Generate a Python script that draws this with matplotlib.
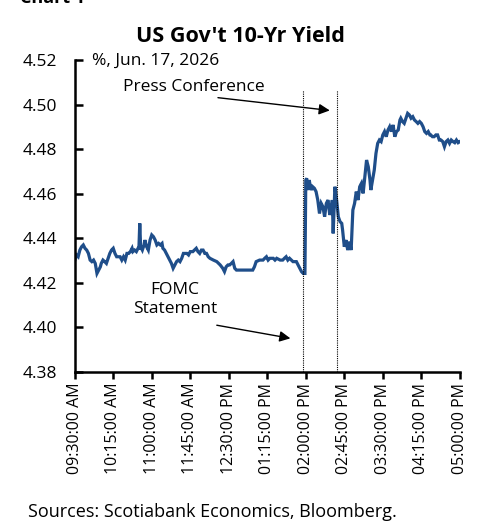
import matplotlib.pyplot as plt

plt.rcParams['font.family'] = ['Open Sans', 'DejaVu Sans']

# minutes after 09:30 and the 10-yr yield (%)
minutes = [0, 2, 4, 6, 8, 10, 12, 14, 16, 18, 20, 22, 24, 26, 28, 30, 31, 33, 35, 37,
           39, 41, 43, 45, 47, 49, 53, 55, 57, 59, 61, 63, 65, 67, 68, 70, 72, 74, 75, 76,
           77, 79, 81, 82, 84, 86, 88, 90, 92, 94, 96, 98, 100, 102, 103, 105, 107, 109, 111, 113,
           115, 117, 119, 121, 123, 125, 127, 131, 133, 135, 138, 142, 144, 146, 148, 150, 152, 154, 156, 158,
           162, 166, 170, 173, 175, 177, 179, 181, 183, 185, 187, 189, 193, 201, 208, 210, 212, 216, 220, 222,
           224, 226, 228, 232, 234, 236, 240, 243, 245, 247, 249, 251, 255, 259, 261, 263, 265, 267, 269, 270,
           271, 273, 274, 275, 277, 278, 280, 282, 284, 286, 288, 290, 292, 294, 296, 298, 300, 301, 302, 304,
           306, 308, 310, 312, 313, 315, 317, 319, 321, 323, 325, 327, 329, 331, 333, 335, 337, 339, 341, 343,
           345, 346, 348, 350, 352, 354, 356, 358, 360, 362, 364, 366, 368, 370, 372, 374, 376, 378, 380, 381,
           383, 385, 387, 389, 391, 393, 395, 397, 399, 401, 403, 405, 407, 409, 411, 413, 415, 416, 418, 420,
           422, 424, 426, 428, 430, 432, 434, 436, 438, 440, 442, 444, 446, 448, 450]
yields = [4.4300, 4.4325, 4.4317, 4.4347, 4.4362, 4.4370, 4.4355, 4.4347, 4.4332, 4.4302,
          4.4295, 4.4302, 4.4287, 4.4242, 4.4257, 4.4272, 4.4287, 4.4302, 4.4295, 4.4287,
          4.4310, 4.4332, 4.4347, 4.4355, 4.4332, 4.4317, 4.4317, 4.4302, 4.4317, 4.4302,
          4.4332, 4.4332, 4.4340, 4.4355, 4.4340, 4.4347, 4.4340, 4.4355, 4.4355, 4.4467,
          4.4362, 4.4347, 4.4370, 4.4392, 4.4362, 4.4347, 4.4392, 4.4415, 4.4407, 4.4392,
          4.4370, 4.4377, 4.4370, 4.4377, 4.4355, 4.4347, 4.4332, 4.4317, 4.4302, 4.4287,
          4.4265, 4.4280, 4.4295, 4.4302, 4.4295, 4.4310, 4.4332, 4.4332, 4.4325, 4.4340,
          4.4340, 4.4355, 4.4340, 4.4332, 4.4347, 4.4347, 4.4332, 4.4332, 4.4317, 4.4310,
          4.4302, 4.4295, 4.4280, 4.4265, 4.4250, 4.4272, 4.4280, 4.4280, 4.4287, 4.4295,
          4.4265, 4.4257, 4.4257, 4.4257, 4.4257, 4.4272, 4.4295, 4.4302, 4.4302, 4.4310,
          4.4317, 4.4302, 4.4310, 4.4310, 4.4302, 4.4310, 4.4302, 4.4302, 4.4310, 4.4317,
          4.4302, 4.4310, 4.4295, 4.4295, 4.4280, 4.4265, 4.4250, 4.4242, 4.4242, 4.4662,
          4.4670, 4.4617, 4.4662, 4.4640, 4.4617, 4.4632, 4.4625, 4.4610, 4.4572, 4.4512,
          4.4557, 4.4542, 4.4497, 4.4557, 4.4572, 4.4505, 4.4542, 4.4572, 4.4422, 4.4632,
          4.4572, 4.4497, 4.4475, 4.4467, 4.4437, 4.4362, 4.4392, 4.4347, 4.4385, 4.4347,
          4.4527, 4.4557, 4.4610, 4.4572, 4.4632, 4.4647, 4.4602, 4.4677, 4.4752, 4.4722,
          4.4662, 4.4617, 4.4662, 4.4707, 4.4782, 4.4827, 4.4842, 4.4835, 4.4865, 4.4880,
          4.4857, 4.4887, 4.4902, 4.4880, 4.4910, 4.4857, 4.4880, 4.4887, 4.4932, 4.4940,
          4.4925, 4.4917, 4.4940, 4.4962, 4.4955, 4.4940, 4.4947, 4.4932, 4.4925, 4.4917,
          4.4925, 4.4917, 4.4902, 4.4880, 4.4872, 4.4880, 4.4865, 4.4865, 4.4857, 4.4857,
          4.4865, 4.4865, 4.4842, 4.4842, 4.4835, 4.4812, 4.4835, 4.4842, 4.4827, 4.4842,
          4.4835, 4.4830, 4.4842, 4.4830, 4.4835]

tick_minutes = [0, 45, 90, 135, 180, 225, 270, 315, 360, 405, 450]
tick_labels = ['09:30:00 AM', '10:15:00 AM', '11:00:00 AM', '11:45:00 AM', '12:30:00 PM',
               '01:15:00 PM', '02:00:00 PM', '02:45:00 PM', '03:30:00 PM', '04:15:00 PM',
               '05:00:00 PM']
y_ticks = [4.38, 4.40, 4.42, 4.44, 4.46, 4.48, 4.50, 4.52]

fomc_minute = 267
presser_minute = 306

fig = plt.figure(figsize=(4.79, 5.21), dpi=100)
ax = fig.add_axes([0.156, 0.2866, 0.804, 0.5974])

ax.plot(minutes, yields, color='#1f4e8a', lw=2.3, solid_joinstyle='miter')

for m in (fomc_minute, presser_minute):
    ax.vlines(m, 4.38, 4.5067, colors='black', linestyles=(0, (1, 1)), lw=0.8)

ax.set_xlim(0, 450)
ax.set_ylim(4.38, 4.52)
ax.set_xticks(tick_minutes)
ax.set_xticklabels(tick_labels, rotation=90)
ax.set_yticks(y_ticks)
ax.set_yticklabels([f'{v:.2f}' for v in y_ticks])

for side in ('top', 'right'):
    ax.spines[side].set_visible(False)
for side in ('left', 'bottom'):
    ax.spines[side].set_linewidth(1.8)
ax.tick_params(axis='y', direction='in', length=6, width=1.8, labelsize=12.5, pad=13)
ax.tick_params(axis='x', direction='out', length=5, width=1.8, labelsize=11.5, pad=3)

ax.text(0.045, 1.0, '%, Jun. 17, 2026', transform=ax.transAxes, fontsize=12.5,
        va='center', ha='left')

ax.annotate('Press Conference', xy=(298, 4.4975), xytext=(139, 4.5081),
            fontsize=12.5, ha='center', va='center',
            arrowprops=dict(arrowstyle='-|>', color='black', lw=1.0,
                            mutation_scale=16, shrinkA=0, shrinkB=0,
                            relpos=(0.5, 0.0)))
ax.annotate('', xy=(252, 4.395), xytext=(166, 4.4009),
            arrowprops=dict(arrowstyle='-|>', color='black', lw=1.0,
                            mutation_scale=16, shrinkA=0, shrinkB=0))
ax.text(117, 4.4125, 'FOMC\nStatement', fontsize=12.5, ha='center', va='center',
        linespacing=1.25)

fig.text(0.502, 0.929, "US Gov't 10-Yr Yield", fontsize=15.5, fontweight='bold',
         ha='center', va='center')
# page heading above the chart, mostly trimmed off by the top edge
fig.text(0.042, 0.994, 'Chart 1', fontsize=13, fontweight='bold', ha='left',
         va='baseline')
fig.text(0.058, 0.017, 'Sources: Scotiabank Economics, Bloomberg.', fontsize=13,
         ha='left', va='center')

fig.savefig('out.png', dpi=100)
